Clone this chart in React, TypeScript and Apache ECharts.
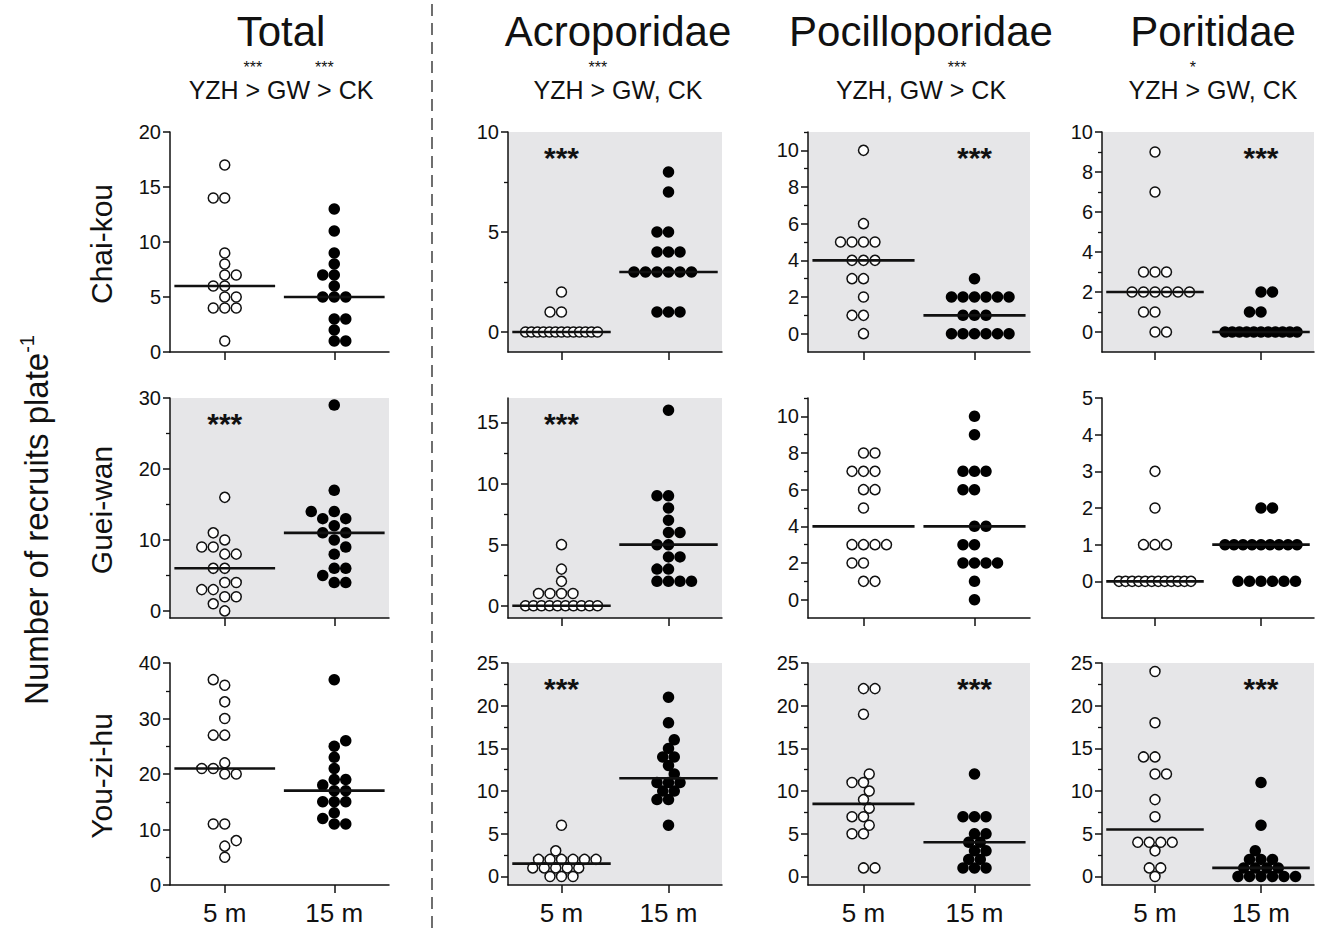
import React, { useEffect, useRef } from "react";
import * as echarts from "echarts";

const FONT = '"Liberation Sans", Arial, Helvetica, sans-serif';

const groups = ["5 m", "15 m"];
const sites = ["Chai-kou", "Guei-wan", "You-zi-hu"];
const families = ["Total", "Acroporidae", "Pocilloporidae", "Poritidae"];
const comparisons = ["YZH > GW > CK", "YZH > GW, CK", "YZH, GW > CK", "YZH > GW, CK"];
const comparisonStars = [["***", "***"], ["***"], ["***"], ["*"]];
const yAxisTitle = "Number of recruits plate";
const yAxisTitleSup = "-1";

// ---- data (recruits per plate) ----
const chaiTotal5 = [17, 14, 14, 9, 8, 7, 7, 6, 6, 5, 5, 4, 4, 4, 1];
const chaiTotal15 = [13, 11, 9, 8, 7, 7, 6, 5, 5, 5, 3, 3, 2, 1, 1];
const guiTotal5 = [16, 11, 10, 9, 9, 8, 8, 6, 6, 4, 4, 3, 3, 2, 2, 1, 0];
const guiTotal15 = [29, 17, 14, 14, 13, 13, 12, 11, 11, 10, 9, 8, 6, 6, 5, 4, 4];
const youTotal5 = [37, 36, 33, 30, 27, 27, 22, 21, 21, 20, 20, 11, 11, 8, 7, 5];
const youTotal15 = [37, 26, 25, 23, 21, 19, 19, 18, 17, 17, 15, 15, 15, 13, 12, 11, 11];

const chaiAcro5 = [2, 1, 1, 0, 0, 0, 0, 0, 0, 0, 0, 0, 0, 0, 0, 0];
const chaiAcro15 = [8, 7, 5, 5, 4, 4, 4, 3, 3, 3, 3, 3, 3, 1, 1, 1];
const guiAcro5 = [5, 3, 2, 1, 1, 1, 1, 0, 0, 0, 0, 0, 0, 0, 0, 0, 0];
const guiAcro15 = [16, 9, 9, 8, 7, 6, 6, 5, 5, 4, 4, 3, 3, 2, 2, 2, 2];
const youAcro5 = [6, 3, 2, 2, 2, 2, 2, 2, 1, 1, 1, 1, 1, 0, 0, 0];
const youAcro15 = [21, 18, 16, 15, 14, 14, 13, 12, 11, 11, 11, 10, 10, 9, 9, 6];

const chaiPoci5 = [10, 6, 5, 5, 5, 5, 4, 4, 4, 3, 3, 2, 1, 1, 0];
const chaiPoci15 = [3, 2, 2, 2, 2, 2, 2, 1, 1, 1, 0, 0, 0, 0, 0, 0];
const guiPoci5 = [8, 8, 7, 7, 7, 6, 6, 5, 3, 3, 3, 3, 2, 2, 1, 1];
const guiPoci15 = [10, 9, 7, 7, 7, 6, 6, 4, 4, 3, 3, 2, 2, 2, 2, 1, 0];
const youPoci5 = [22, 22, 19, 12, 11, 11, 10, 9, 8, 7, 7, 6, 5, 5, 1, 1];
const youPoci15 = [12, 7, 7, 7, 5, 5, 4, 4, 3, 3, 2, 2, 1, 1, 1];

const chaiPori5 = [9, 7, 3, 3, 3, 2, 2, 2, 2, 2, 2, 1, 1, 0, 0];
const chaiPori15 = [2, 2, 1, 1, 0, 0, 0, 0, 0, 0, 0, 0, 0, 0, 0];
const guiPori5 = [3, 2, 1, 1, 1, 0, 0, 0, 0, 0, 0, 0, 0, 0, 0, 0, 0];
const guiPori15 = [2, 2, 1, 1, 1, 1, 1, 1, 1, 1, 1, 0, 0, 0, 0, 0, 0];
const youPori5 = [24, 18, 14, 14, 12, 12, 9, 7, 4, 4, 4, 4, 3, 1, 1, 0];
const youPori15 = [11, 6, 3, 2, 2, 2, 1, 1, 1, 1, 0, 0, 0, 0, 0, 0];

const panelData = [
  [[chaiTotal5, chaiTotal15], [chaiAcro5, chaiAcro15], [chaiPoci5, chaiPoci15], [chaiPori5, chaiPori15]],
  [[guiTotal5, guiTotal15], [guiAcro5, guiAcro15], [guiPoci5, guiPoci15], [guiPori5, guiPori15]],
  [[youTotal5, youTotal15], [youAcro5, youAcro15], [youPoci5, youPoci15], [youPori5, youPori15]],
];

// axis ranges / ticks
const yMin = [[0, -1, -1, -1], [-1, -1, -1, -1], [0, -1, -1, -1]];
const yMax = [[20, 10, 11, 10], [30, 17, 11, 5], [40, 25, 25, 25]];
const majorTicks = [
  [[0, 5, 10, 15, 20], [0, 5, 10], [0, 2, 4, 6, 8, 10], [0, 2, 4, 6, 8, 10]],
  [[0, 10, 20, 30], [0, 5, 10, 15], [0, 2, 4, 6, 8, 10], [0, 1, 2, 3, 4, 5]],
  [[0, 10, 20, 30, 40], [0, 5, 10, 15, 20, 25], [0, 5, 10, 15, 20, 25], [0, 5, 10, 15, 20, 25]],
];
const minorTicks = [
  [[], [2.5, 7.5], [1, 3, 5, 7, 9, 11], [1, 3, 5, 7, 9]],
  [[5, 15, 25], [2.5, 7.5, 12.5], [1, 3, 5, 7, 9, 11], []],
  [[5, 15, 25, 35], [2.5, 7.5, 12.5, 17.5, 22.5], [2.5, 7.5, 12.5, 17.5, 22.5], [2.5, 7.5, 12.5, 17.5, 22.5]],
];
const significant = [[false, true, true, true], [true, true, false, false], [false, true, true, true]];
const starGroup = [[-1, 0, 1, 1], [0, 0, -1, -1], [-1, 0, 1, 1]];
const panelStars = "***";

// layout
const colLeft = [170, 508, 808, 1102];
const colWidth = [219, 214, 222, 212];
const rowTop = [132, 398, 663];
const rowHeight = [220, 220, 222];
const titleCenters = [281, 618, 921, 1213];
const GREY = "#e6e6e8";
const INK = "#111";
const DOT = 11.5;

function median(arr: number[]) {
  const s = [...arr].sort((a, b) => a - b);
  const n = s.length;
  return n % 2 ? s[(n - 1) / 2] : (s[n / 2 - 1] + s[n / 2]) / 2;
}

// beeswarm layout in pixel space (returns horizontal pixel offsets)
function swarmOffsets(values: number[], pxPerUnitY: number, d: number, maxSpread: number) {
  const byVal = new Map<number, number[]>();
  values.forEach((v, i) => {
    if (!byVal.has(v)) byVal.set(v, []);
    byVal.get(v)!.push(i);
  });
  const rows = [...byVal.keys()].sort((a, b) => a - b);
  const placed: { x: number; y: number; r: number }[] = [];
  const out = new Array(values.length).fill(0);
  const free = (px: number, y: number, r: number) =>
    placed.every((p) => Math.hypot(p.x - px, p.y - y) >= (p.r === r ? d * 0.98 : d * 0.85));
  rows.forEach((v, ri) => {
    const idx = byVal.get(v)!;
    const k = idx.length;
    const y = v * pxPerUnitY;
    if (k > 1 && (k - 1) * d > maxSpread) {
      const step = maxSpread / (k - 1);
      const base = idx.map((_, i) => (i - (k - 1) / 2) * step);
      let chosen = base;
      for (let n = 0; n < 80; n++) {
        const cands = n === 0 ? [0] : ri % 2 === 0 ? [(n * d) / 4, (-n * d) / 4] : [(-n * d) / 4, (n * d) / 4];
        const hit = cands.find((s) => base.every((b) => free(b + s, y, -1)));
        if (hit !== undefined) {
          chosen = base.map((b) => b + hit);
          break;
        }
      }
      chosen.forEach((px, i) => {
        out[idx[i]] = px;
        placed.push({ x: px, y, r: ri });
      });
      return;
    }
    const wantOdd = k % 2 === 0;
    const cands: number[] = [];
    for (let j = -16; j <= 16; j++) cands.push(j);
    cands.sort((a, b) => {
      const pa = (Math.abs(a) % 2 === 1) === wantOdd ? 0 : 1;
      const pb = (Math.abs(b) % 2 === 1) === wantOdd ? 0 : 1;
      if (Math.abs(a) !== Math.abs(b)) return Math.abs(a) - Math.abs(b) + (pa - pb) * 0.5;
      return ri % 2 === 0 ? b - a : a - b;
    });
    idx.forEach((pi) => {
      const j = cands.find((jj) => free((jj * d) / 2, y, ri));
      const px = ((j === undefined ? 0 : j) * d) / 2;
      out[pi] = px;
      placed.push({ x: px, y, r: ri });
    });
  });
  return out;
}

function measure(text: string, font: string) {
  const c = document.createElement("canvas");
  const ctx = c.getContext("2d")!;
  ctx.font = font;
  return ctx.measureText(text).width;
}

function buildOption() {
  const grid: any[] = [];
  const xAxis: any[] = [];
  const yAxis: any[] = [];
  const series: any[] = [];
  const graphic: any[] = [];

  for (let r = 0; r < 3; r++) {
    for (let c = 0; c < 4; c++) {
      const gi = r * 4 + c;
      const min = yMin[r][c];
      const max = yMax[r][c];
      grid.push({
        left: colLeft[c],
        top: rowTop[r],
        width: colWidth[c],
        height: rowHeight[r],
        show: significant[r][c],
        backgroundColor: GREY,
        borderWidth: 0,
        containLabel: false,
      });
      xAxis.push({
        type: "value",
        gridIndex: gi,
        min: 0.5,
        max: 2.5,
        axisLine: { show: true, onZero: false, lineStyle: { color: INK, width: 1.5 } },
        axisTick: { show: true, customValues: [1, 2], length: 8, lineStyle: { color: INK, width: 1.5 } },
        axisLabel: {
          show: r === 2,
          customValues: [1, 2],
          formatter: (v: number) => (Math.round(v) === 1 ? groups[0] : groups[1]),
          fontSize: 26,
          fontFamily: FONT,
          color: INK,
          margin: 15,
        },
        splitLine: { show: false },
      });
      yAxis.push({
        type: "value",
        gridIndex: gi,
        min,
        max,
        position: "left",
        axisLine: { show: true, onZero: false, lineStyle: { color: INK, width: 1.5 } },
        axisTick: { show: true, customValues: majorTicks[r][c], length: 7, lineStyle: { color: INK, width: 1.5 } },
        axisLabel: {
          show: true,
          customValues: majorTicks[r][c],
          fontSize: 20,
          fontFamily: FONT,
          color: INK,
          margin: 9,
        },
        splitLine: { show: false },
      });
      const mn = minorTicks[r][c];
      yAxis.push({
        type: "value",
        gridIndex: gi,
        min,
        max,
        position: "left",
        offset: 0,
        axisLine: { show: false, onZero: false },
        axisTick: { show: mn.length > 0, customValues: mn.length ? mn : [0], length: 4, lineStyle: { color: INK, width: 1.3 } },
        axisLabel: { show: false, customValues: mn.length ? mn : [0] },
        splitLine: { show: false },
      });

      const pxX = colWidth[c] / 2;
      const pxY = rowHeight[r] / (max - min);
      [0, 1].forEach((g) => {
        const vals = panelData[r][c][g];
        const offs = swarmOffsets(vals, pxY, DOT, 72);
        const cx = g + 1;
        series.push({
          type: "scatter",
          name: `${sites[r]} ${families[c]} ${groups[g]}`,
          xAxisIndex: gi,
          yAxisIndex: gi * 2,
          symbol: "circle",
          symbolSize: g === 0 ? 10 : DOT,
          itemStyle:
            g === 0
              ? { color: "#ffffff", borderColor: INK, borderWidth: 1.5, opacity: 1 }
              : { color: "#000000", borderWidth: 0, opacity: 1 },
          data: vals.map((v, i) => [cx + offs[i] / pxX, v]),
          z: 3,
          silent: true,
        });
        const m = median(vals);
        series.push({
          type: "line",
          name: `median ${sites[r]} ${families[c]} ${groups[g]}`,
          xAxisIndex: gi,
          yAxisIndex: gi * 2,
          symbol: "none",
          lineStyle: { color: INK, width: 2.6 },
          data: [
            [cx - 0.46, m],
            [cx + 0.46, m],
          ],
          z: 5,
          silent: true,
        });
      });

      if (starGroup[r][c] >= 0) {
        graphic.push({
          type: "text",
          x: colLeft[c] + ((starGroup[r][c] + 0.5) / 2) * colWidth[c],
          y: rowTop[r] + 25,
          style: {
            text: panelStars,
            fontSize: 30,
            fontWeight: "bold",
            fontFamily: FONT,
            fill: INK,
            textAlign: "center",
            textVerticalAlign: "middle",
          },
          z: 10,
        });
      }
    }
  }

  // column titles & comparisons
  const subFontSize = 25;
  const subFont = `${subFontSize}px ${FONT}`;
  families.forEach((f, c) => {
    graphic.push({
      type: "text",
      x: titleCenters[c],
      y: 31,
      style: { text: f, fontSize: 42, fontFamily: FONT, fill: INK, textAlign: "center", textVerticalAlign: "middle" },
    });
    const s = comparisons[c];
    graphic.push({
      type: "text",
      x: titleCenters[c],
      y: 90,
      style: { text: s, fontSize: subFontSize, fontFamily: FONT, fill: INK, textAlign: "center", textVerticalAlign: "middle" },
    });
    const W = measure(s, subFont);
    const x0 = titleCenters[c] - W / 2;
    let k = 0;
    for (let i = 0; i < s.length; i++) {
      if (s[i] === ">") {
        const xc = x0 + measure(s.slice(0, i), subFont) + measure(">", subFont) / 2;
        graphic.push({
          type: "text",
          x: xc,
          y: 67,
          style: {
            text: comparisonStars[c][k] || "",
            fontSize: 16,
            fontFamily: FONT,
            fill: INK,
            textAlign: "center",
            textVerticalAlign: "middle",
          },
        });
        k++;
      }
    }
  });

  // row labels
  sites.forEach((s, r) => {
    graphic.push({
      type: "text",
      x: 101,
      y: rowTop[r] + rowHeight[r] / 2 + 2,
      rotation: Math.PI / 2,
      style: { text: s, fontSize: 30, fontFamily: FONT, fill: INK, textAlign: "center", textVerticalAlign: "middle" },
    });
  });

  // y-axis title
  graphic.push({
    type: "text",
    x: 36,
    y: 520,
    rotation: Math.PI / 2,
    style: {
      text: `{a|${yAxisTitle}}{b|${yAxisTitleSup}}`,
      textAlign: "center",
      textVerticalAlign: "middle",
      rich: {
        a: { fontSize: 33, fontFamily: FONT, fill: INK, lineHeight: 38 },
        b: { fontSize: 20, fontFamily: FONT, fill: INK, verticalAlign: "top", lineHeight: 38 },
      },
    },
  });

  // dashed separator
  graphic.push({
    type: "line",
    shape: { x1: 432, y1: 4, x2: 432, y2: 930 },
    style: { stroke: "#222", lineWidth: 1.3, lineDash: [12, 7] },
  });

  return {
    animation: false,
    backgroundColor: "#ffffff",
    grid,
    xAxis,
    yAxis,
    series,
    graphic,
  };
}

export default function App() {
  const ref = useRef<HTMLDivElement>(null);
  useEffect(() => {
    if (!ref.current) return;
    const chart = echarts.init(ref.current, undefined, { renderer: "svg" });
    chart.setOption(buildOption() as any);
    return () => chart.dispose();
  }, []);
  return (
    <div
      ref={ref}
      style={{ position: "fixed", left: 0, top: 0, width: 1323, height: 933, background: "#fff" }}
    />
  );
}
